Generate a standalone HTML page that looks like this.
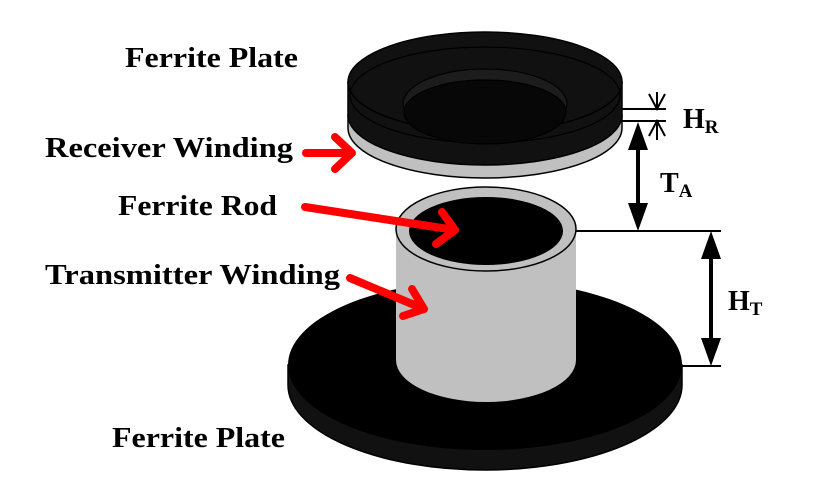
<!DOCTYPE html>
<html><head><style>body{margin:0;background:#fff}svg{display:block}</style></head><body>
<svg width="817" height="484" viewBox="0 0 817 484" xmlns="http://www.w3.org/2000/svg" font-family="Liberation Serif, serif" font-weight="bold">
<!-- bottom plate -->
<path d="M288 365 L288 385 A197 85 0 0 0 682 385 L682 365 Z" fill="#111" stroke="#000" stroke-width="1.5"/>
<ellipse cx="485" cy="365" rx="197" ry="85" fill="#000"/>
<!-- rod -->
<path d="M396 229 L396 360 A90 42 0 0 0 576 360 L576 229 Z" fill="#c0c0c0"/>
<ellipse cx="486" cy="229" rx="90" ry="42" fill="#c0c0c0" stroke="#000" stroke-width="1.5"/>
<ellipse cx="486" cy="231" rx="77" ry="34" fill="#000"/>
<!-- top plate gray band -->
<path d="M348 115 L348 128 A137 50 0 0 0 622 128 L622 115 Z" fill="#c0c0c0" stroke="#000" stroke-width="1.5"/>
<path d="M348 82 L348 115 A137 50 0 0 0 622 115 L622 82 Z" fill="#111" stroke="#000" stroke-width="1.5"/>
<ellipse cx="485" cy="82" rx="137" ry="50" fill="#111" stroke="#000" stroke-width="1.5"/>
<ellipse cx="485" cy="95" rx="135" ry="48" fill="none" stroke="#000" stroke-width="1.2"/>
<ellipse cx="485" cy="104" rx="82" ry="35" fill="#1c1c1c" stroke="#000" stroke-width="1.2"/>
<ellipse cx="485" cy="112" rx="81" ry="32" fill="#070707" stroke="#000" stroke-width="1.2"/>
<!-- dimension lines -->
<g stroke="#000" stroke-width="2" fill="none">
<line x1="622" y1="109" x2="666" y2="109"/><line x1="622" y1="121" x2="666" y2="121"/>
<line x1="576" y1="231" x2="721" y2="231"/><line x1="682" y1="366" x2="721" y2="366"/>
<line x1="657" y1="92" x2="657" y2="109"/><line x1="657" y1="121" x2="657" y2="140"/>
<polyline points="649,94 657,109 665,94"/><polyline points="649,136 657,121 665,136"/>
</g>
<g stroke="#000" stroke-width="4"><line x1="638" y1="140" x2="638" y2="215"/><line x1="711" y1="248" x2="711" y2="350"/></g>
<g fill="#000">
<polygon points="638,122 628,150 648,150"/><polygon points="638,231 628,203 648,203"/>
<polygon points="711,231 701,259 721,259"/><polygon points="711,366 701,338 721,338"/>
</g>
<!-- red arrows -->
<g stroke="#f00" stroke-width="8" stroke-linecap="round" stroke-linejoin="round" fill="none">
<line x1="306" y1="153" x2="350" y2="153"/><polyline points="335,137 352,153 335,169"/>
<line x1="305" y1="207" x2="455" y2="230"/><polyline points="442,212 455,230 436,244"/>
<line x1="350" y1="278" x2="424" y2="309"/><polyline points="412,289 424,309 403,316"/>
</g>
<!-- labels -->
<g font-size="28" fill="#000">
<text x="125" y="67" textLength="173" lengthAdjust="spacingAndGlyphs">Ferrite Plate</text>
<text x="45" y="157" textLength="248" lengthAdjust="spacingAndGlyphs">Receiver Winding</text>
<text x="118" y="215" textLength="159" lengthAdjust="spacingAndGlyphs">Ferrite Rod</text>
<text x="45" y="284" textLength="295" lengthAdjust="spacingAndGlyphs">Transmitter Winding</text>
<text x="112" y="447" textLength="173" lengthAdjust="spacingAndGlyphs">Ferrite Plate</text>
<text x="683" y="128">H<tspan font-size="19" dy="5">R</tspan></text>
<text x="660" y="192">T<tspan font-size="19" dy="5">A</tspan></text>
<text x="728" y="310">H<tspan font-size="19" dy="5">T</tspan></text>
</g>
</svg>
</body></html>
